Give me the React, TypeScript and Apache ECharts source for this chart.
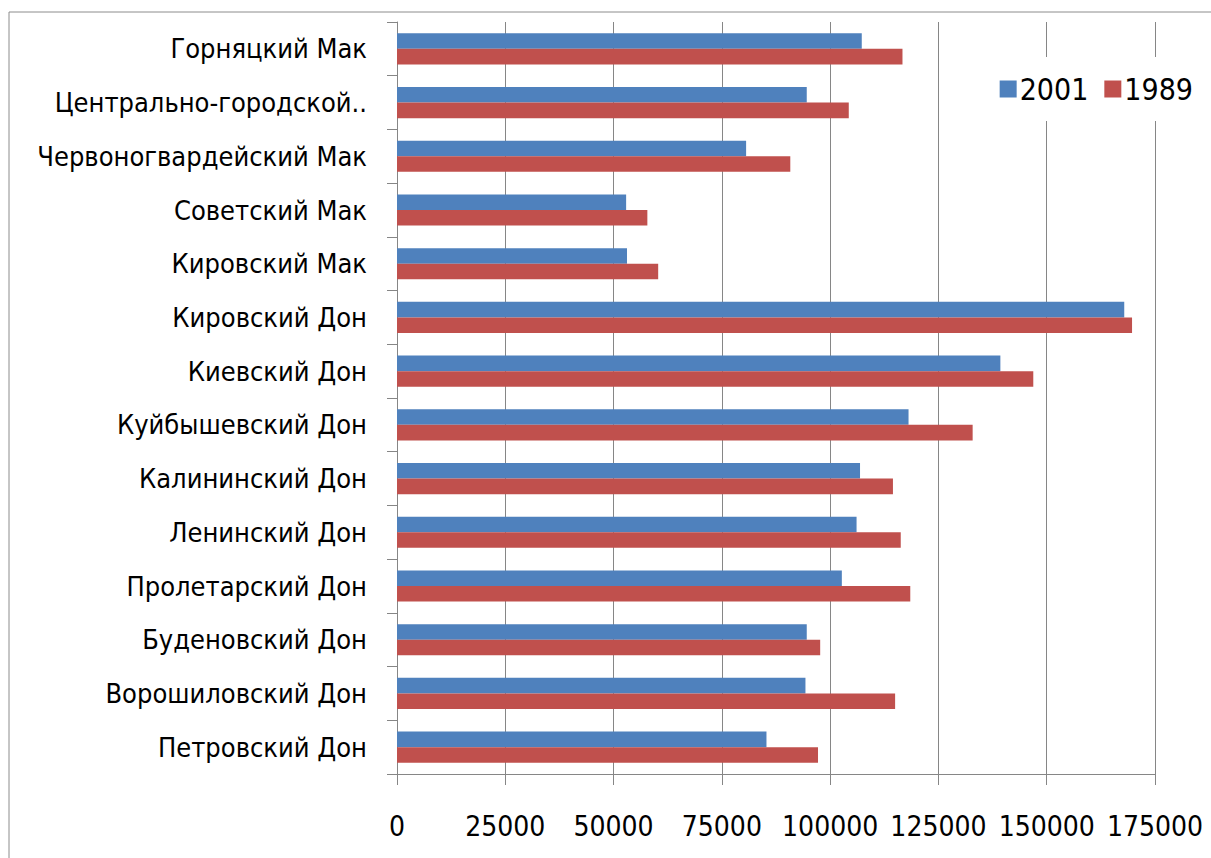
import React, { useEffect, useRef } from "react";
import * as echarts from "echarts";

const categories = [
  "Горняцкий Мак",
  "Центрально-городской..",
  "Червоногвардейский Мак",
  "Советский Мак",
  "Кировский Мак",
  "Кировский Дон",
  "Киевский Дон",
  "Куйбышевский Дон",
  "Калининский Дон",
  "Ленинский Дон",
  "Пролетарский Дон",
  "Буденовский Дон",
  "Ворошиловский Дон",
  "Петровский Дон",
];

const values2001 = [107300, 94600, 80600, 52900, 53100, 167900, 139300, 118100, 106900, 106100, 102700, 94600, 94300, 85300];
const values1989 = [116700, 104300, 90800, 57800, 60300, 169700, 146900, 132900, 114500, 116300, 118500, 97700, 115000, 97200];

const xTicks = [0, 25000, 50000, 75000, 100000, 125000, 150000, 175000];

export default function App() {
  const ref = useRef<HTMLDivElement>(null);
  useEffect(() => {
    if (!ref.current) return;
    const chart = echarts.init(ref.current, null, { renderer: "svg" });
    const font = "'DejaVu Sans Condensed', 'DejaVu Sans', sans-serif";
    chart.setOption({
      animation: false,
      backgroundColor: "#ffffff",
      textStyle: { fontFamily: font },
      graphic: [
        {
          type: "rect",
          shape: { x: 9, y: 12, width: 1300, height: 900 },
          style: { fill: "none", stroke: "#8c8c8c", lineWidth: 1 },
          silent: true,
          z: 100,
        },
      ],
      legend: {
        data: ["2001", "1989"],
        right: 8,
        top: 57,
        itemWidth: 17,
        itemHeight: 17,
        itemGap: 16,
        backgroundColor: "#ffffff",
        padding: [17, 10, 17, 12],
        textStyle: { fontSize: 30, color: "#000", fontFamily: font, padding: [0, 0, 0, -2] },
        icon: "rect",
        z: 10,
      },
      grid: { left: 397, right: 56, top: 22, bottom: 84, containLabel: false },
      xAxis: {
        type: "value",
        min: xTicks[0],
        max: xTicks[xTicks.length - 1],
        interval: 25000,
        axisLine: { show: true, lineStyle: { color: "#868686", width: 1 } },
        axisTick: { show: true, length: 11, lineStyle: { color: "#868686" } },
        splitLine: { show: true, lineStyle: { color: "#868686", width: 1 } },
        axisLabel: {
          fontSize: 28,
          color: "#000",
          margin: 38,
          fontFamily: font,
          showMaxLabel: true,
          showMinLabel: true,
          hideOverlap: false,
          formatter: (v: number) => String(v),
        },
      },
      yAxis: {
        type: "category",
        data: categories,
        inverse: true,
        axisLine: { show: true, lineStyle: { color: "#868686", width: 1 } },
        axisTick: { show: true, length: 10, lineStyle: { color: "#868686" } },
        axisLabel: { fontSize: 27, color: "#000", margin: 30, fontFamily: font },
      },
      series: [
        {
          name: "2001",
          type: "bar",
          data: values2001,
          itemStyle: { color: "#4F81BD" },
          barGap: "0%",
          barCategoryGap: "42%",
        },
        {
          name: "1989",
          type: "bar",
          data: values1989,
          itemStyle: { color: "#C0504D" },
          barGap: "0%",
          barCategoryGap: "42%",
        },
      ],
    });
    return () => chart.dispose();
  }, []);
  return (
    <div
      ref={ref}
      style={{ position: "absolute", left: 0, top: 0, width: 1211, height: 858 }}
    />
  );
}
